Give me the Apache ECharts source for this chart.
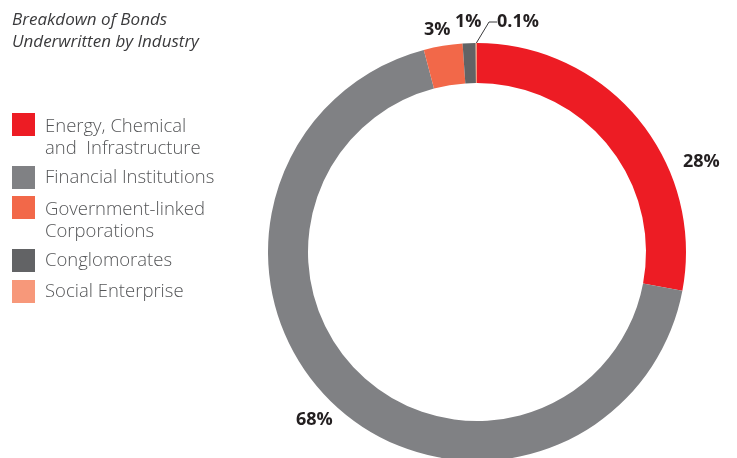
<!DOCTYPE html>
<html>
<head>
<meta charset="utf-8">
<script src="https://cdn.jsdelivr.net/npm/echarts@6/dist/echarts.min.js"></script>
<style>
  html, body { margin: 0; padding: 0; background: #ffffff; }
  #chart { width: 737px; height: 458px; }
</style>
</head>
<body>
<div id="chart"></div>
<script>
// Industry breakdown of underwritten bonds (percent of total)
const categories = [
  'Energy, Chemical\nand  Infrastructure',
  'Financial Institutions',
  'Government-linked\nCorporations',
  'Conglomorates',
  'Social Enterprise'
];
const shares = [28, 68, 3, 1, 0.1];
const valueLabels = ['28%', '68%', '3%', '1%', '0.1%'];
const colors = ['#ED1C24', '#808184', '#F26849', '#626365', '#F7987A'];

// where each percentage label sits (pixel anchor, left-aligned text, middle)
const labelSpots = [[683, 162], [296, 420], [424, 30], [455, 22], [497, 22]];
// legend rows: top of each swatch
const legendTops = [113, 166, 196, 249, 280];

const FONT = '"Open Sans", "Noto Sans", sans-serif';

// Two-line names get an empty leading spacer so the first line lines up with the swatch
const legends = categories.map((name, i) => {
  const twoLine = name.indexOf('\n') >= 0;
  return {
    left: 12,
    top: twoLine ? legendTops[i] - 23.5 : legendTops[i],
    orient: 'vertical',
    padding: 0,
    itemWidth: 23,
    itemHeight: 23,
    itemGap: 0,
    icon: 'rect',
    selectedMode: false,
    data: [name],
    formatter: n => (twoLine ? '{g|}\n' : '') + n.split('\n').map(s => '{t|' + s + '}').join('\n'),
    textStyle: {
      rich: {
        g: { height: 26, lineHeight: 26, fontSize: 18.5 },
        t: {
          fontFamily: FONT,
          fontWeight: 300,
          fontSize: 18.5,
          lineHeight: 22,
          height: 22,
          color: '#555658',
          padding: [0, 0, 0, 5]
        }
      }
    }
  };
});

const chart = echarts.init(document.getElementById('chart'), null, { renderer: 'canvas' });
chart.setOption({
  backgroundColor: '#ffffff',
  animation: false,
  color: colors,
  title: {
    text: 'Breakdown of Bonds\nUnderwritten by Industry',
    left: 12,
    top: 9,
    padding: 0,
    textStyle: {
      fontFamily: FONT,
      fontStyle: 'italic',
      fontWeight: 400,
      fontSize: 17,
      lineHeight: 22,
      color: '#3A3A3C'
    }
  },
  legend: legends,
  series: [{
    type: 'pie',
    center: [477, 252],
    radius: [169, 209],
    startAngle: 90,
    clockwise: true,
    avoidLabelOverlap: false,
    silent: true,
    itemStyle: { borderWidth: 0 },
    data: categories.map((name, i) => ({
      name: name,
      value: shares[i],
      label: { formatter: valueLabels[i] },
      labelLine: { show: i === 4 }
    })),
    label: {
      show: true,
      position: 'outside',
      fontFamily: FONT,
      fontWeight: 700,
      fontSize: 18,
      color: '#231F20'
    },
    labelLine: {
      show: false,
      length: 10,
      length2: 8,
      smooth: false,
      lineStyle: { color: '#3A3A3C', width: 1 }
    },
    labelLayout: function (params) {
      const p = labelSpots[params.dataIndex];
      return { x: p[0], y: p[1], align: 'left', verticalAlign: 'middle' };
    }
  }]
});
</script>
</body>
</html>
